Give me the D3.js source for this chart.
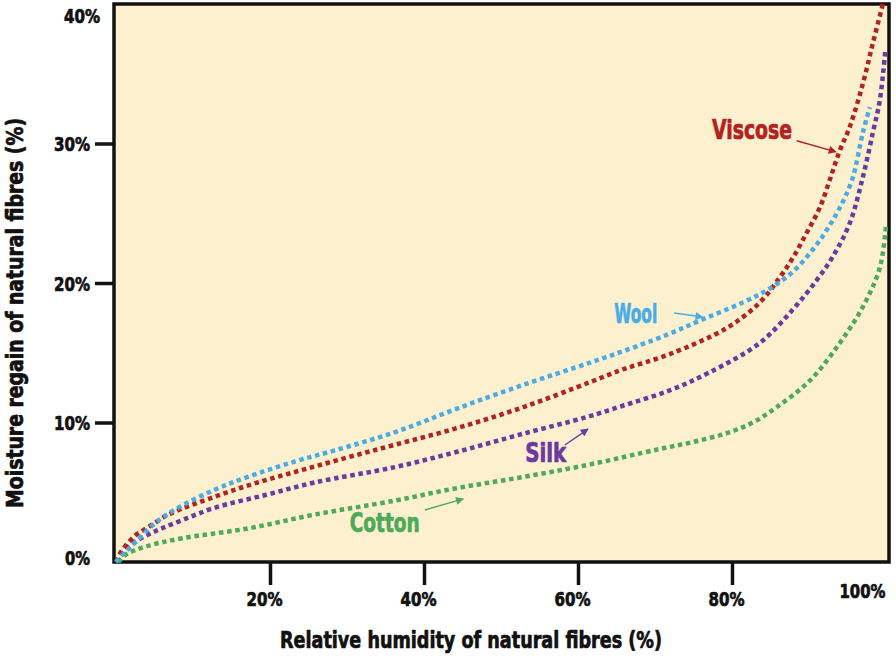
<!DOCTYPE html>
<html>
<head>
<meta charset="utf-8">
<script src="https://cdn.jsdelivr.net/npm/d3@7"></script>
<style>
  html, body { margin: 0; padding: 0; background: #fff; }
  svg text { font-family: "DejaVu Sans", sans-serif; font-stretch: condensed; font-weight: bold; }
</style>
</head>
<body>
<svg id="chart" width="896" height="660"></svg>
<script>
// ---- data (relative humidity %, moisture regain %) ----
const woolRH = [0, 0.8, 2.5, 5.1, 8.1, 12.9, 17.1, 23.2, 28.4, 36.2, 44.3, 52.9, 61.6, 65.8, 71.6, 75.8, 81.4, 84.9, 87.9, 90.5, 92.3, 94.0, 95.6, 97.0, 97.9];
const woolMR = [0, 0.5, 1.4, 2.8, 3.9, 5.2, 6.1, 7.2, 8.0, 9.3, 11.0, 12.7, 14.3, 15.1, 16.3, 17.3, 18.6, 19.6, 20.8, 22.4, 23.8, 25.4, 27.4, 30.8, 32.6];

const viscoseRH = [0, 0.5, 2.5, 4.2, 6.8, 12.9, 18.4, 24.2, 30.1, 36.2, 44.3, 52.9, 61.6, 65.8, 71.9, 79.4, 83.6, 86.2, 87.9, 89.7, 91.4, 92.7, 94.0, 95.3, 97.0, 98.3, 99.6];
const viscoseMR = [0, 0.6, 1.9, 2.5, 3.4, 4.7, 5.7, 6.6, 7.5, 8.4, 9.6, 11.1, 12.9, 13.8, 14.9, 16.8, 18.6, 20.4, 21.8, 23.6, 25.4, 27.4, 29.5, 31.2, 34.3, 37.2, 40.0];

const silkRH = [0, 1.8, 5.1, 8.6, 12.9, 19.4, 25.8, 36.2, 44.3, 52.9, 61.2, 65.8, 71.9, 77.1, 83.6, 87.9, 91.0, 93.1, 95.3, 97.0, 98.3, 99.2, 99.9];
const silkMR = [0, 1.2, 2.2, 3.0, 3.9, 4.8, 5.7, 6.8, 7.9, 9.2, 10.4, 11.2, 12.3, 13.6, 15.7, 18.1, 20.2, 21.9, 24.3, 27.6, 30.8, 33.1, 36.6];

const cottonRH = [0.3, 1.2, 3.8, 8.6, 17.1, 25.8, 36.2, 44.3, 52.9, 61.6, 70.6, 74.9, 79.4, 82.7, 85.8, 90.1, 94.0, 97.0, 99.2, 100];
const cottonMR = [0, 0.5, 1.1, 1.7, 2.4, 3.4, 4.4, 5.3, 6.1, 7.0, 8.1, 8.6, 9.25, 10.0, 11.1, 13.0, 15.7, 18.3, 21.1, 24.1];

const seriesNames = ["Viscose", "Wool", "Silk", "Cotton"];
const seriesColors = ["#B2221E", "#4AACE6", "#6A3AA0", "#4CAA58"];

const yTicks = [0, 10, 20, 30, 40];
const yTickLabels = ["0%", "10%", "20%", "30%", "40%"];
const xTicks = [20, 40, 60, 80, 100];
const xTickLabels = ["20%", "40%", "60%", "80%", "100%"];

const xTitle = "Relative humidity of natural fibres (%)";
const yTitle = "Moisture regain of natural fibres (%)";

// label annotation anchors in data space
const labelPos = {
  Viscose: { tx: 82.6, ty: 30.3, ax0: [88.4, 30.2], ax1: [93.5, 29.4], w: 80 },
  Wool:    { tx: 67.5, ty: 17.1, ax0: [72.5, 17.85], ax1: [76.2, 17.56], w: 43 },
  Silk:    { tx: 55.8, ty: 7.2,  ax0: [58.3, 8.39],  ax1: [61.3, 9.53], w: 41 },
  Cotton:  { tx: 34.9, ty: 2.15, ax0: [40.1, 3.73],  ax1: [45.1, 4.52], w: 70 }
};

// ---- drawing ----
const svg = d3.select("#chart");
const x = d3.scaleLinear().domain([0, 100]).range([116, 886]);
const y = d3.scaleLinear().domain([0, 40]).range([562, 4]);

function fit(sel, w) {
  sel.attr("textLength", w).attr("lengthAdjust", "spacingAndGlyphs");
}
function heavy(sel, c) {
  sel.attr("stroke", c).attr("stroke-width", 0.7).attr("stroke-linejoin", "round");
}

// background box
svg.append("rect")
  .attr("x", x(0) - 2).attr("y", y(40))
  .attr("width", 889 - x(0) + 2).attr("height", y(0) - y(40))
  .attr("fill", "#FCF0CF")
  .attr("stroke", "#111").attr("stroke-width", 3.5);

// left axis
const yAxis = d3.axisLeft(y).tickValues(yTicks).tickSize(18).tickPadding(5)
  .tickFormat((d, i) => yTickLabels[i]);
const gy = svg.append("g").attr("transform", `translate(${x(0) - 3},0)`).call(yAxis);
gy.select(".domain").remove();
gy.selectAll(".tick line").attr("stroke", "#111").attr("stroke-width", 3.5)
  .attr("display", d => (d === 0 || d === 40) ? "none" : null);
gy.selectAll(".tick text").attr("fill", "#111").attr("font-size", 20)
  .attr("dy", "0.36em")
  .attr("x", d => d === 40 ? -13 : -23)
  .attr("transform", d => d === 40 ? "translate(0,11)" : (d === 0 ? "translate(0,-5)" : null))
  .call(heavy, "#111")
  .each(function (d) { fit(d3.select(this), d === 0 ? 25 : 36); });

// bottom axis
const xAxis = d3.axisBottom(x).tickValues(xTicks).tickSize(22).tickPadding(7)
  .tickFormat((d, i) => xTickLabels[i]);
const gx = svg.append("g").attr("transform", `translate(0,${y(0) + 1})`).call(xAxis);
gx.select(".domain").remove();
gx.selectAll(".tick line").attr("stroke", "#111").attr("stroke-width", 3.5)
  .attr("display", d => d === 100 ? "none" : null);
gx.selectAll(".tick text").attr("fill", "#111").attr("font-size", 20)
  .attr("transform", d => d === 100 ? "translate(-24,-8)" : "translate(-6,0)")
  .call(heavy, "#111")
  .each(function (d) { fit(d3.select(this), d === 100 ? 46 : 36); });

// axis titles
svg.append("text").attr("x", 471).attr("y", 648).attr("text-anchor", "middle")
  .attr("font-size", 23).attr("fill", "#111").text(xTitle).call(fit, 382).call(heavy, "#111");
svg.append("text").attr("transform", "translate(23,313) rotate(-90)")
  .attr("text-anchor", "middle").attr("font-size", 23).attr("fill", "#111").text(yTitle)
  .call(fit, 390).call(heavy, "#111");

// curves
const seriesData = [
  viscoseRH.map((v, i) => [v, viscoseMR[i]]),
  woolRH.map((v, i) => [v, woolMR[i]]),
  silkRH.map((v, i) => [v, silkMR[i]]),
  cottonRH.map((v, i) => [v, cottonMR[i]])
];
const line = d3.line().x(d => x(d[0])).y(d => y(d[1])).curve(d3.curveCatmullRom.alpha(0.5));
const drawOrder = [3, 2, 0, 1];
drawOrder.forEach(i => {
  svg.append("path").datum(seriesData[i])
    .attr("d", line)
    .attr("fill", "none")
    .attr("stroke", seriesColors[i])
    .attr("stroke-width", 4.5)
    .attr("stroke-dasharray", "4.5 3.7")
    .attr("stroke-linecap", "butt");
});

// labels and arrows
const defs = svg.append("defs");
seriesNames.forEach((name, i) => {
  defs.append("marker").attr("id", "arr" + i)
    .attr("viewBox", "0 0 10 10").attr("refX", 9).attr("refY", 5)
    .attr("markerWidth", 9).attr("markerHeight", 8).attr("markerUnits", "userSpaceOnUse")
    .attr("orient", "auto")
    .append("path").attr("d", "M0,0 L10,5 L0,10 Z").attr("fill", seriesColors[i]);
  const p = labelPos[name];
  svg.append("text").attr("x", x(p.tx)).attr("y", y(p.ty))
    .attr("text-anchor", "middle").attr("font-size", 26)
    .attr("fill", seriesColors[i]).text(name).call(fit, p.w).call(heavy, seriesColors[i]);
  svg.append("line")
    .attr("x1", x(p.ax0[0])).attr("y1", y(p.ax0[1]))
    .attr("x2", x(p.ax1[0])).attr("y2", y(p.ax1[1]))
    .attr("stroke", seriesColors[i]).attr("stroke-width", 1.4)
    .attr("marker-end", `url(#arr${i})`);
});
</script>
</body>
</html>
